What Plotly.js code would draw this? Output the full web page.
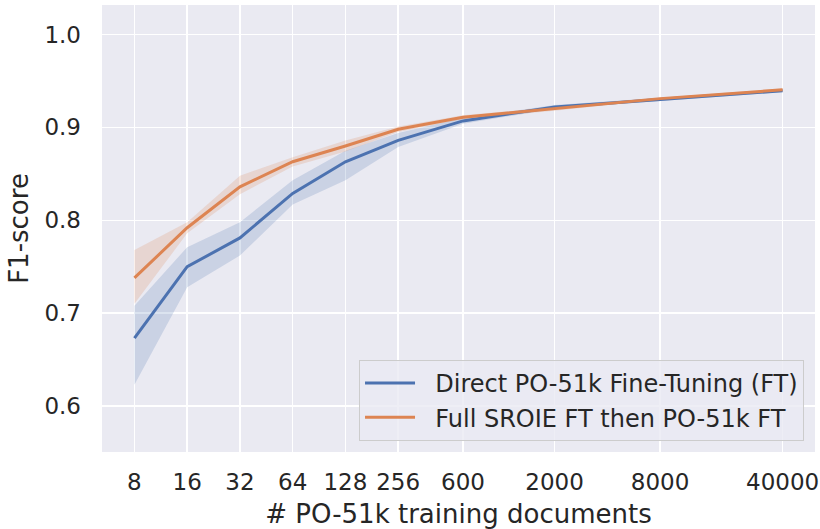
<!DOCTYPE html>
<html>
<head>
<meta charset="utf-8">
<script src="https://cdn.plot.ly/plotly-3.0.1.min.js"></script>
<style>html,body{margin:0;padding:0;background:#fff;}#chart{width:820px;height:529px;}</style>
</head>
<body>
<div id="chart"></div>
<script>
var docs = [8, 16, 32, 64, 128, 256, 600, 2000, 8000, 40000];
var tickLabels = ["8", "16", "32", "64", "128", "256", "600", "2000", "8000", "40000"];

var directMean  = [0.673, 0.750, 0.781, 0.829, 0.863, 0.886, 0.907, 0.922, 0.930, 0.9395];
var directUpper = [0.708, 0.771, 0.798, 0.843, 0.875, 0.894, 0.910, 0.924, 0.932, 0.941];
var directLower = [0.623, 0.728, 0.762, 0.817, 0.843, 0.879, 0.904, 0.920, 0.928, 0.938];

var sroieMean  = [0.738, 0.792, 0.836, 0.863, 0.880, 0.898, 0.911, 0.920, 0.931, 0.9405];
var sroieUpper = [0.768, 0.798, 0.848, 0.868, 0.886, 0.901, 0.913, 0.922, 0.932, 0.942];
var sroieLower = [0.710, 0.786, 0.828, 0.858, 0.874, 0.895, 0.909, 0.918, 0.930, 0.939];

var names = ["Direct PO-51k Fine-Tuning (FT)", "Full SROIE FT then PO-51k FT"];
var colors = ["#4c72b0", "#dd8452"];
var bands = ["rgba(76,114,176,0.2)", "rgba(221,132,82,0.2)"];

function band(upper, lower, fill) {
  return {
    x: docs.concat(docs.slice().reverse()),
    y: upper.concat(lower.slice().reverse()),
    type: "scatter", mode: "lines", fill: "toself",
    fillcolor: fill, line: {width: 0, color: "rgba(0,0,0,0)"},
    hoverinfo: "skip", showlegend: false
  };
}
function line(y, i) {
  return {
    x: docs, y: y, type: "scatter", mode: "lines",
    name: "\u00a0\u00a0" + names[i],
    line: {color: colors[i], width: 3}
  };
}

var data = [
  band(directUpper, directLower, bands[0]),
  band(sroieUpper, sroieLower, bands[1]),
  line(directMean, 0),
  line(sroieMean, 1)
];

var fontFam = "DejaVu Sans, sans-serif";
var layout = {
  width: 820, height: 529,
  margin: {l: 102, r: 5, t: 5, b: 77},
  paper_bgcolor: "#ffffff",
  plot_bgcolor: "#eaeaf2",
  font: {family: fontFam, color: "#262626", size: 23},
  xaxis: {
    type: "log",
    range: [0.718, 4.787],
    tickvals: docs, ticktext: tickLabels,
    showgrid: true, gridcolor: "#ffffff", gridwidth: 1.5,
    zeroline: false, showline: false, ticks: "",
    ticklabelstandoff: 14,
    tickfont: {size: 23, color: "#262626"},
    title: {text: "# PO-51k training documents", font: {size: 26, color: "#262626"}, standoff: 12}
  },
  yaxis: {
    range: [0.5505, 1.0318],
    tickvals: [0.6, 0.7, 0.8, 0.9, 1.0],
    ticktext: ["0.6", "0.7", "0.8", "0.9", "1.0"],
    showgrid: true, gridcolor: "#ffffff", gridwidth: 1.5,
    zeroline: false, showline: false, ticks: "",
    ticklabelstandoff: 20,
    tickfont: {size: 23, color: "#262626"},
    title: {text: "F1-score", font: {size: 26, color: "#262626"}, standoff: 8}
  },
  legend: {
    x: 0.9846, y: 0.0246, xanchor: "right", yanchor: "bottom",
    bgcolor: "rgba(234,234,242,0.8)", bordercolor: "#cccccc", borderwidth: 1,
    font: {size: 24, color: "#262626"},
    itemwidth: 50
  },
  showlegend: true
};

Plotly.newPlot("chart", data, layout, {staticPlot: true, displayModeBar: false});
</script>
</body>
</html>
